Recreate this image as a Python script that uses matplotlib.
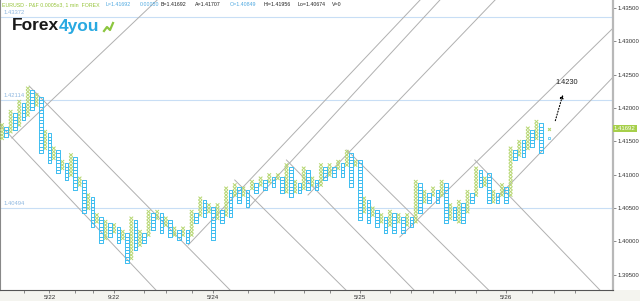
import matplotlib.pyplot as plt
from matplotlib.collections import LineCollection
from matplotlib.patches import Rectangle

# point & figure columns (box index from base, odd columns X, even O)
box_size = 0.0005
box_base = 1.4002
col_low = [30, 31, 32, 33, 34, 36, 37, 39, 40, 26, 27, 23, 24, 20, 21, 18, 19, 15, 16, 8,
           9, 4, 5, -1, 0, 1, 2, -1, 0, -7, -6, -3, -2, -1, 1, 3, 6, 2, 4, 1,
           1, 0, 1, -1, 1, 5, 7, 7, 8, 0, 6, 5, 7, 7, 13, 11, 13, 10, 15, 14,
           16, 15, 17, 16, 18, 14, 14, 13, 14, 14, 15, 15, 16, 15, 16, 18, 19, 19, 21, 19,
           22, 16, 22, 6, 8, 5, 7, 4, 5, 2, 4, 2, 5, 2, 4, 4, 5, 8, 11, 11,
           13, 11, 13, 5, 6, 6, 5, 5, 8, 11, 13, 16, 16, 11, 11, 11, 13, 11, 13, 24,
           25, 25, 27, 28, 30, 26]
col_high = [35, 34, 39, 38, 42, 41, 46, 45, 44, 43, 33, 32, 28, 27, 24, 23, 26, 25, 19, 18,
            14, 13, 8, 7, 6, 5, 5, 4, 3, 2, 7, 6, 3, 2, 9, 8, 9, 8, 7, 6,
            4, 3, 4, 3, 9, 8, 13, 12, 11, 10, 11, 9, 16, 15, 17, 16, 16, 15, 18, 17,
            19, 18, 20, 19, 20, 19, 23, 22, 18, 17, 22, 21, 19, 18, 23, 22, 23, 22, 24, 23,
            27, 26, 24, 24, 13, 12, 10, 9, 8, 7, 9, 8, 8, 7, 8, 7, 18, 17, 15, 14,
            16, 15, 18, 17, 11, 10, 12, 11, 15, 14, 22, 21, 19, 20, 15, 14, 17, 16, 28, 27,
            30, 30, 34, 33, 36, 35]
last_col = 127
last_x_price = 1.41692
last_o_price = 1.41545

# trend lines (column, price) -> (column, price)
down_lines = [((-0.5, 1.4175), (36.0, 1.3925)),
              ((6.3, 1.4233), (53.2, 1.3925)),
              ((54.0, 1.4092), (80.1, 1.3925)),
              ((66.0, 1.4122), (95.9, 1.3925)),
              ((80.0, 1.4137), (113.2, 1.3925)),
              ((109.7, 1.4122), (139.0, 1.3925))]
up_lines = [((2.3, 1.4155), (36.0, 1.4362)),
            ((43.2, 1.39945), (97.0, 1.4362)),
            ((57.1, 1.4050), (101.6, 1.4362)),
            ((71.0, 1.40695), (114.4, 1.4362)),
            ((92.3, 1.40065), (141.8, 1.4320)),
            ((114.8, 1.4065), (141.8, 1.42465))]
levels = [1.43372, 1.42114, 1.40494]

date_pos = [11, 26, 49, 83, 117]
date_labels = ['5/22', '9:22', '5/24', '5/25', '5/26']
minor_pos = [5, 17, 21, 33, 38, 44, 57, 63, 70, 76, 90, 95, 100, 105, 110, 123, 128, 133]
price_ticks = [1.395, 1.400, 1.405, 1.410, 1.415, 1.420, 1.425, 1.430, 1.435]
target = 1.4230

green = '#b5d66e'
blue = '#3fbdf0'
grey = '#b0b0b0'

plt.rcParams['font.family'] = ['Liberation Sans', 'DejaVu Sans']
fig = plt.figure(figsize=(6.4, 3.01), dpi=100)
fig.patch.set_facecolor('white')
fig.patches.append(Rectangle((0, 0), 1, 11 / 301, transform=fig.transFigure,
                             facecolor='#f4f4ef', edgecolor='none', zorder=-5))
ax = fig.add_axes([0, 11 / 301, 613 / 640, 290 / 301])
ax.set_xlim(-0.464, 141.76)
ax.set_ylim(1.3927, 1.4362)

for lv in levels:
    ax.axhline(lv, color='#c8def5', lw=0.8, zorder=1)
for lv in levels:
    ax.text(0.3, lv + 0.0003, '%.5f' % lv, color='#8fb8e0', fontsize=4.2, va='bottom', zorder=2)

for (x0, y0), (x1, y1) in down_lines + up_lines:
    ax.plot([x0, x1], [y0, y1], color=grey, lw=0.7, zorder=2)

xs, os_ = [], []
hw = 0.42
for i, (lo, hi) in enumerate(zip(col_low, col_high)):
    for n in range(lo, hi):
        b = box_base + n * box_size
        t = b + box_size
        if i % 2 == 0:
            xs.append([(i - hw, b), (i + hw, t)])
            xs.append([(i - hw, t), (i + hw, b)])
        else:
            os_.append([(i - hw, b), (i + hw, b), (i + hw, t), (i - hw, t), (i - hw, b)])
ax.add_collection(LineCollection(xs, colors=green, linewidths=0.7, zorder=3))
ax.add_collection(LineCollection(os_, colors=blue, linewidths=0.7, zorder=3))
ax.plot([last_col], [last_x_price], marker='x', ms=2, color=green, mew=0.8, zorder=3)
ax.plot([last_col], [last_o_price], marker='s', ms=1.5, color=blue, mew=0.5, mfc='none', zorder=3)

ax.annotate('', xy=(130.3, target - 0.0006), xytext=(128.2, 1.4177),
            arrowprops=dict(arrowstyle='-|>', color='black', lw=0.8, ls=':',
                            mutation_scale=5), zorder=4)
ax.text(128.3, target + 0.0003, '%.4f' % target, fontsize=5.3, color='#222222', va='bottom')

ax.yaxis.tick_right()
ax.set_yticks(price_ticks)
ax.set_yticklabels(['%.5f' % p for p in price_ticks])
ax.tick_params(axis='y', labelsize=4.3, labelcolor='#333333', length=2.5, width=0.6,
               color='#777777', pad=0.5)
ax.set_xticks(date_pos)
ax.set_xticklabels(date_labels)
ax.set_xticks(minor_pos, minor=True)
ax.tick_params(axis='x', which='both', labelsize=4.5, labelcolor='#333333', length=2.5,
               width=0.6, color='#777777', pad=1)

ax.spines['top'].set_visible(False)
ax.spines['right'].set_color('#b8b8b8')
ax.spines['right'].set_linewidth(1.6)
ax.spines['bottom'].set_color('#555555')
ax.spines['bottom'].set_linewidth(0.8)
ax.spines['left'].set_color('#888888')
ax.spines['left'].set_linewidth(0.8)

# current price label on the axis
fig.text(614 / 640, 1 - 128.5 / 301, '1.41692', fontsize=4.3, color='white', va='center',
         bbox=dict(boxstyle='square,pad=0.15', fc='#a6cf4a', ec='none'))

# header line
hdr = [(2, 'EURUSD - P&F 0.0005x3, 1 min  FOREX', '#96c43a'),
       (106, 'L=1.41692', '#4ea8e0'), (140, '0.00050', '#4ea8e0'),
       (161, 'B=1.41692', '#222222'), (195, 'A=1.41707', '#222222'),
       (230, 'O=1.40849', '#4ea8e0'), (264, 'Hi=1.41956', '#222222'),
       (298, 'Lo=1.40674', '#222222'), (332, 'V=0', '#222222')]
for px, s, c in hdr:
    fig.text(px / 640, 1 - 5 / 301, s, fontsize=3.8, color=c, va='center')

# logo
t1 = fig.text(12 / 640, 1 - 26 / 301, 'Forex', fontsize=12.5, fontweight='bold',
              color='#1a1a1a', va='center')
fig.canvas.draw()
bb = t1.get_window_extent()
fig.text(bb.x1 / 640, 1 - 26 / 301, '4you', fontsize=12.5, fontweight='bold',
         color='#29a9e1', va='center')
fig.add_artist(plt.Line2D([104 / 640, 107 / 640, 110 / 640, 113 / 640],
                          [1 - 31 / 301, 1 - 27 / 301, 1 - 30 / 301, 1 - 23 / 301],
                          color='#8cc63f', lw=1.6))

fig.savefig('out.png', dpi=100, facecolor=fig.get_facecolor())
